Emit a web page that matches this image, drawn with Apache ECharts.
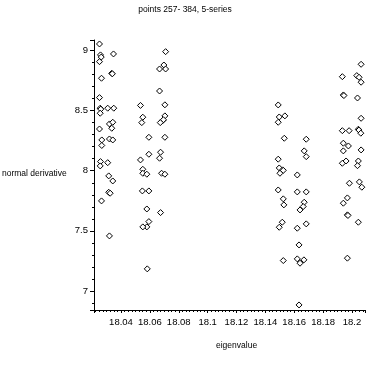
<!DOCTYPE html>
<html>
<head>
<meta charset="utf-8">
<script src="https://cdn.jsdelivr.net/npm/echarts@6/dist/echarts.min.js"></script>
<style>
html,body{margin:0;padding:0;background:#fff;}
#c{width:370px;height:370px;}
</style>
</head>
<body>
<div id="c"></div>
<script>
var titleText = 'points 257- 384, 5-series';
var xName = 'eigenvalue';
var yName = 'normal derivative';

var series1 = [
  [18.0251, 9.054], [18.0258, 8.963], [18.0263, 8.945], [18.0251, 8.907], [18.0348, 8.971],
  [18.0336, 8.810], [18.0340, 8.806], [18.0265, 8.769], [18.0251, 8.608], [18.0256, 8.520],
  [18.0260, 8.512], [18.0256, 8.478], [18.0308, 8.520], [18.0350, 8.520], [18.0320, 8.389],
  [18.0343, 8.403], [18.0336, 8.353], [18.0251, 8.347], [18.0267, 8.256], [18.0267, 8.210],
  [18.0320, 8.264], [18.0343, 8.256], [18.0258, 8.076], [18.0256, 8.040], [18.0308, 8.067],
  [18.0315, 7.957], [18.0343, 7.915], [18.0315, 7.821], [18.0325, 7.813], [18.0265, 7.749],
  [18.0320, 7.458]
];
var series2 = [
  [18.0709, 8.990], [18.0697, 8.879], [18.0667, 8.846], [18.0709, 8.846], [18.0667, 8.663],
  [18.0535, 8.543], [18.0704, 8.548], [18.0551, 8.445], [18.0544, 8.400], [18.0704, 8.456],
  [18.0690, 8.418], [18.0694, 8.424], [18.0672, 8.400], [18.0593, 8.278], [18.0704, 8.278],
  [18.0535, 8.090], [18.0593, 8.137], [18.0674, 8.154], [18.0667, 8.104], [18.0551, 8.012],
  [18.0551, 7.979], [18.0579, 7.971], [18.0681, 7.979], [18.0704, 7.971], [18.0548, 7.832],
  [18.0593, 7.832], [18.0579, 7.682], [18.0674, 7.652], [18.0593, 7.577], [18.0579, 7.533],
  [18.0551, 7.533], [18.0582, 7.184]
];
var series3 = [
  [18.1489, 8.547], [18.1496, 8.447], [18.1535, 8.456], [18.1489, 8.403], [18.1531, 8.270],
  [18.1683, 8.262], [18.1669, 8.165], [18.1683, 8.117], [18.1489, 8.096], [18.1496, 8.023],
  [18.1519, 8.007], [18.1524, 8.003], [18.1501, 7.979], [18.1621, 7.965], [18.1489, 7.840],
  [18.1621, 7.824], [18.1683, 7.824], [18.1524, 7.766], [18.1528, 7.716], [18.1669, 7.738],
  [18.1662, 7.702], [18.1640, 7.674], [18.1517, 7.572], [18.1496, 7.530], [18.1621, 7.522],
  [18.1683, 7.558], [18.1633, 7.383], [18.1524, 7.253], [18.1621, 7.267], [18.1640, 7.231],
  [18.1667, 7.259], [18.1633, 6.884]
];
var series4 = [
  [18.2063, 8.885], [18.1933, 8.782], [18.2033, 8.791], [18.2049, 8.777], [18.2063, 8.736],
  [18.1940, 8.630], [18.1944, 8.625], [18.2038, 8.605], [18.2063, 8.436], [18.1933, 8.333],
  [18.1980, 8.333], [18.2044, 8.345], [18.2048, 8.338], [18.2061, 8.312], [18.1940, 8.229],
  [18.1975, 8.206], [18.1940, 8.165], [18.2063, 8.173], [18.1933, 8.062], [18.1959, 8.081],
  [18.2044, 8.081], [18.2038, 8.042], [18.1982, 7.896], [18.2051, 7.907], [18.2068, 7.863],
  [18.1968, 7.774], [18.1940, 7.730], [18.1968, 7.633], [18.1972, 7.628], [18.2044, 7.572],
  [18.1968, 7.273]
];
var allSeries = [series1, series2, series3, series4];

var font = 'Liberation Sans, Arial, sans-serif';
var chart = echarts.init(document.getElementById('c'), null, {renderer: 'canvas'});
chart.setOption({
  animation: false,
  backgroundColor: '#fff',
  title: {
    text: titleText, left: 'center', top: 0,
    textStyle: {fontSize: 8.5, fontWeight: 'normal', color: '#000', fontFamily: font}
  },
  grid: {left: 94, right: 5, top: 40, bottom: 60},
  xAxis: {
    type: 'value', min: 18.0213, max: 18.209, splitNumber: 9,
    minInterval: 0.02, maxInterval: 0.02,
    axisLine: {show: true, lineStyle: {color: '#000', width: 1}},
    axisTick: {show: true, length: 3, lineStyle: {color: '#000'}},
    minorTick: {show: true, splitNumber: 8, length: 2, lineStyle: {color: '#000'}},
    splitLine: {show: false},
    axisLabel: {color: '#000', fontSize: 9.5, fontFamily: font, margin: 7,
      showMinLabel: false, showMaxLabel: false}
  },
  yAxis: {
    type: 'value', min: 6.842, max: 9.087, splitNumber: 5,
    minInterval: 0.5, maxInterval: 0.5,
    axisLine: {show: true, lineStyle: {color: '#000', width: 1}},
    axisTick: {show: true, length: 4, lineStyle: {color: '#000'}},
    minorTick: {show: true, splitNumber: 5, length: 2, lineStyle: {color: '#000'}},
    splitLine: {show: false},
    axisLabel: {color: '#000', fontSize: 9.5, fontFamily: font, margin: 6,
      showMinLabel: false, showMaxLabel: false}
  },
  graphic: [
    {type: 'text', left: 2, top: 169, style: {text: yName, fontSize: 8.5, fontFamily: font, fill: '#000'}},
    {type: 'text', left: 216, top: 341, style: {text: xName, fontSize: 8.5, fontFamily: font, fill: '#000'}}
  ],
  series: allSeries.map(function (d) {
    return {
      type: 'scatter', data: d, symbol: 'diamond', symbolSize: 6,
      itemStyle: {color: '#fff', borderColor: '#000', borderWidth: 1, opacity: 1}
    };
  })
});
</script>
</body>
</html>
